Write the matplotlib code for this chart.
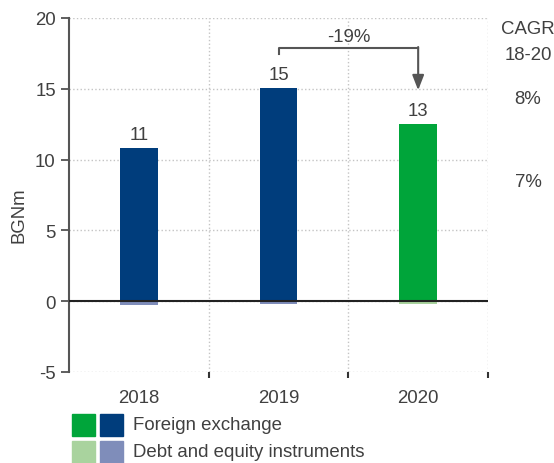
import numpy as np
import matplotlib.pyplot as plt
from matplotlib.patches import Rectangle

plt.rcParams['font.family'] = ['Liberation Sans', 'DejaVu Sans']
plt.rcParams['axes.unicode_minus'] = False

years = ['2018', '2019', '2020']
fx = [10.8, 15.05, 12.5]
debt_equity = [-0.25, -0.2, -0.2]
fx_labels = ['11', '15', '13']
change_label = '-19%'
cagr_labels = ['8%', '7%']

dark_blue = '#003d7c'
green = '#00a53a'
light_blue = '#7f8dba'
light_green = '#a9d39e'
txt = '#404040'
fs = 13.4

fig = plt.figure(figsize=(5.54, 4.64), dpi=100)
ax = fig.add_axes([69/554, (464-373)/464, 419/554, 354/464])

x = np.arange(len(years))
w = 0.27
fx_cols = [dark_blue, dark_blue, green]
de_cols = [light_blue, light_blue, light_green]
ax.bar(x, fx, w, color=fx_cols, zorder=3)
ax.bar(x, debt_equity, w, color=de_cols, zorder=3)

for xi, v, lab in zip(x, fx, fx_labels):
    ax.annotate(lab, (xi, v), xytext=(0, 4), textcoords='offset points',
                ha='center', va='bottom', fontsize=fs, color=txt)

ax.axhline(0, color='#222222', lw=1.5, zorder=4)

ax.set_xlim(-0.5, 2.5)
ax.set_ylim(-5, 20)
ax.set_yticks([-5, 0, 5, 10, 15, 20])
ax.set_xticks(x)
ax.set_xticklabels(years)
ax.set_xticks([0.5, 1.5, 2.5], minor=True)
ax.tick_params(axis='x', which='major', length=0, pad=12, labelsize=fs, labelcolor=txt)
ax.tick_params(axis='x', which='minor', length=4, width=1.5, color='#333333')
ax.tick_params(axis='y', length=6, width=1.2, color='#444444', labelsize=fs, labelcolor=txt)

ax.grid(axis='y', ls=':', color='#c4c4c4', lw=1, zorder=0)
ax.grid(axis='x', which='minor', ls=':', color='#c4c4c4', lw=1, zorder=0)
for s in ['top', 'right', 'bottom']:
    ax.spines[s].set_visible(False)
ax.spines['left'].set_color('#555555')
ax.spines['left'].set_linewidth(1.5)

ax.set_ylabel('BGNm', fontsize=fs, color=txt)
ax.yaxis.set_label_coords(-0.098, 0.446)

# bracket arrow 2019 -> 2020
top = max(fx) + 2.85
ax.plot([1, 1, 2], [fx[1] + 2.4, top, top], color='#555555', lw=1.5, zorder=5)
ax.annotate('', xy=(2, fx[2] + 2.4), xytext=(2, top + 0.05),
            arrowprops=dict(arrowstyle='-|>,head_length=0.9,head_width=0.35',
                            color='#555555', lw=1.5, shrinkA=0, shrinkB=0))
ax.text(1.5, top + 0.8, change_label, ha='center', va='center', fontsize=fs, color=txt)

# CAGR column on the right
fig.text(528/554, 1 - 30/464, 'CAGR', ha='center', va='center', fontsize=fs, color=txt)
fig.text(528/554, 1 - 55/464, '18-20', ha='center', va='center', fontsize=fs, color=txt)
fig.text(528/554, 1 - 100/464, cagr_labels[0], ha='center', va='center', fontsize=fs, color=txt)
fig.text(528/554, 1 - 183/464, cagr_labels[1], ha='center', va='center', fontsize=fs, color=txt)

# legend with paired swatches
legend_rows = [([green, dark_blue], 'Foreign exchange'),
               ([light_green, light_blue], 'Debt and equity instruments')]
for i, (cols, name) in enumerate(legend_rows):
    ytop = 415 + i * 27
    for j, c in enumerate(cols):
        fig.patches.append(Rectangle(((72 + j * 28) / 554, 1 - (ytop + 22) / 464),
                                     23 / 554, 22 / 464, color=c,
                                     transform=fig.transFigure, figure=fig))
    fig.text(133/554, 1 - (ytop + 11) / 464, name, ha='left', va='center',
             fontsize=fs, color=txt)

fig.savefig('out.png', dpi=100)
